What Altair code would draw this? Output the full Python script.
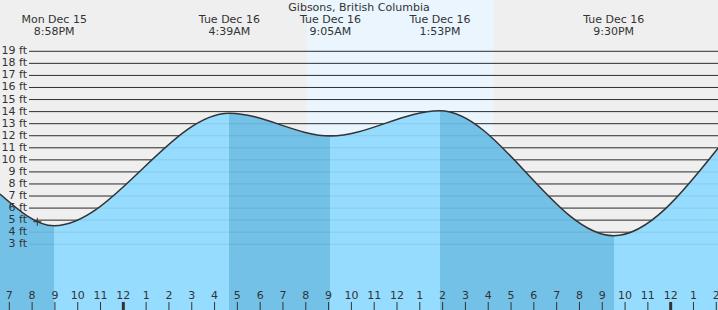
import altair as alt
import pandas as pd

# ---- data ----
# times in hours from Mon Dec 15 00:00
curve_times = [18.592, 20.967, 28.65, 33.083, 37.883, 45.5, 50.075]
curve_heights = [7.17, 4.54, 13.86, 11.98, 14.07, 3.71, 10.96]

extreme_times = [20.967, 28.65, 33.083, 37.883, 45.5]
extreme_days = ["Mon Dec 15", "Tue Dec 16", "Tue Dec 16", "Tue Dec 16", "Tue Dec 16"]
extreme_clock = ["8:58PM", "4:39AM", "9:05AM", "1:53PM", "9:30PM"]

sunrise = 32.053
sunset = 40.253

grid_feet = list(range(3, 20))
hour_ticks = list(range(19, 51))

marker_time = [20.228]
marker_height = [4.87]

title_text = "Gibsons, British Columbia"

# ---- styles ----
W, H = 718, 310
X_DOMAIN = [curve_times[0], curve_times[-1]]
Y_DOMAIN = [-2.451, 23.254]
BG = "#efefef"
DAY = "#eaf5fe"
LIGHT = "#96dcfe"
DARK = "#73c1e6"
INK = "#333333"
FONT = "DejaVu Sans"
FS = 11

xs = alt.Scale(domain=X_DOMAIN, nice=False, zero=False)
ys = alt.Scale(domain=Y_DOMAIN, nice=False, zero=False)

curve_df = pd.DataFrame({"t": curve_times, "h": curve_heights})
grid_df = pd.DataFrame({"ft": grid_feet})
hour_df = pd.DataFrame({"hour": hour_ticks})
ext_df = pd.DataFrame({"t": extreme_times, "day": extreme_days, "clock": extreme_clock})
day_df = pd.DataFrame({"a": [sunrise], "b": [sunset]})
mark_df = pd.DataFrame({"t": marker_time, "h": marker_height})

# gradient stops: dark while the tide falls, light while it rises
span = X_DOMAIN[1] - X_DOMAIN[0]
stops = []
for i in range(len(curve_times) - 1):
    c = DARK if curve_heights[i + 1] < curve_heights[i] else LIGHT
    o0 = (curve_times[i] - X_DOMAIN[0]) / span
    o1 = (curve_times[i + 1] - X_DOMAIN[0]) / span
    stops.append({"offset": max(0.0, min(1.0, o0)), "color": c})
    stops.append({"offset": max(0.0, min(1.0, o1)), "color": c})
gradient = {"gradient": "linear", "x1": 0, "x2": 1, "y1": 0, "y2": 0, "stops": stops}

daylight = alt.Chart(day_df).mark_rect(color=DAY).encode(
    x=alt.X("a:Q", scale=xs, axis=None), x2="b:Q",
    y=alt.value(0), y2=alt.value(H))

grid_dark = alt.Chart(grid_df).mark_rule(color=INK, strokeWidth=1).encode(
    x=alt.value(29), x2=alt.value(W),
    y=alt.Y("ft:Q", scale=ys, axis=None))

water = alt.Chart(curve_df).mark_area(interpolate="monotone", color=gradient).encode(
    x=alt.X("t:Q", scale=xs, axis=None),
    y=alt.Y("h:Q", scale=ys, axis=None),
    y2=alt.datum(Y_DOMAIN[0]))

grid_faint = alt.Chart(grid_df).mark_rule(color=INK, strokeWidth=1, opacity=0.1).encode(
    x=alt.value(29), x2=alt.value(W),
    y=alt.Y("ft:Q", scale=ys, axis=None))

line = alt.Chart(curve_df).mark_line(interpolate="monotone", color=INK, strokeWidth=1.5).encode(
    x=alt.X("t:Q", scale=xs, axis=None),
    y=alt.Y("h:Q", scale=ys, axis=None))

marker = alt.Chart(mark_df).mark_point(shape="M-1,0L1,0M0,-1L0,1", filled=False,
                                       stroke=INK, strokeWidth=1, size=64, opacity=1).encode(
    x=alt.X("t:Q", scale=xs, axis=None),
    y=alt.Y("h:Q", scale=ys, axis=None))

ylabels = alt.Chart(grid_df).transform_calculate(lab="datum.ft + ' ft'").mark_text(
    align="right", baseline="middle", font=FONT, fontSize=FS, color=INK).encode(
    x=alt.value(27), y=alt.Y("ft:Q", scale=ys, axis=None), text="lab:N")

ticks = alt.Chart(hour_df).transform_calculate(
    w="datum.hour % 24 == 0 ? 3 : 1").mark_rule(color=INK).encode(
    x=alt.X("hour:Q", scale=xs, axis=None),
    y=alt.value(302), y2=alt.value(H),
    strokeWidth=alt.StrokeWidth("w:Q", scale=None))

tick_labels = alt.Chart(hour_df).transform_calculate(
    lab="datum.hour % 12 == 0 ? '12' : '' + (datum.hour % 12)").mark_text(
    align="center", baseline="middle", font=FONT, fontSize=FS, color=INK).encode(
    x=alt.X("hour:Q", scale=xs, axis=None), y=alt.value(296), text="lab:N")

ext_day = alt.Chart(ext_df).mark_text(
    align="center", baseline="middle", font=FONT, fontSize=FS, color=INK).encode(
    x=alt.X("t:Q", scale=xs, axis=None), y=alt.value(20), text="day:N")

ext_clock = alt.Chart(ext_df).mark_text(
    align="center", baseline="middle", font=FONT, fontSize=FS, color=INK).encode(
    x=alt.X("t:Q", scale=xs, axis=None), y=alt.value(32), text="clock:N")

title = alt.Chart(pd.DataFrame({"s": [title_text]})).mark_text(
    align="center", baseline="middle", font=FONT, fontSize=FS, color=INK).encode(
    x=alt.value(W / 2), y=alt.value(8), text="s:N")

chart = alt.layer(
    daylight, grid_dark, water, grid_faint, line, marker,
    ylabels, ticks, tick_labels, ext_day, ext_clock, title
).properties(width=W, height=H, padding=0, autosize="none").configure_view(
    fill=BG, stroke=None)

chart.save("out.html", embed_options={"renderer": "svg", "actions": False})
